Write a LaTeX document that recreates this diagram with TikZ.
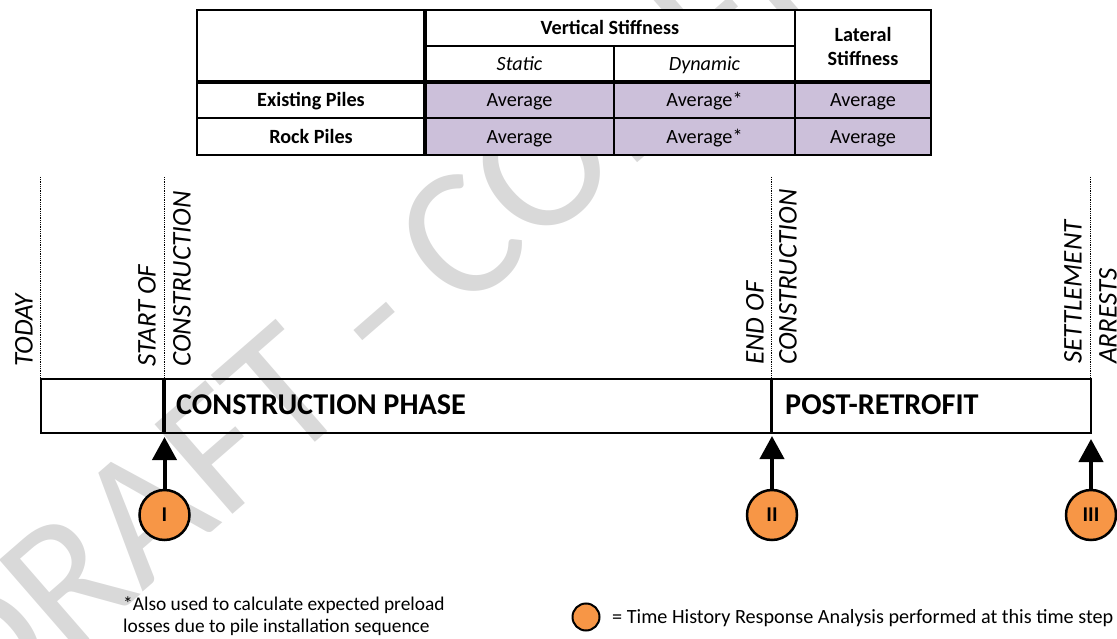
\documentclass[tikz,border=0pt]{standalone}
\usepackage{fontspec}
\setmainfont{Carlito}
\usepackage{xcolor}
\usepackage{tikz}
\usetikzlibrary{arrows.meta}

\definecolor{lilac}{RGB}{204,192,218}
\definecolor{tangerine}{RGB}{247,150,70}
\definecolor{wmgray}{RGB}{217,217,217}

\begin{document}
\begin{tikzpicture}[x=1pt,y=-1pt,
  thinrule/.style={line width=1.4pt},
  thickrule/.style={line width=4pt},
  tabtext/.style={inner sep=0pt, text height=13pt, text depth=0pt,
    font=\fontsize{20.2}{24}\selectfont},
  tabhead/.style={tabtext, font=\fontsize{20.2}{24}\selectfont\bfseries},
  tabsub/.style={tabtext, font=\fontsize{20.2}{24}\selectfont\itshape},
  guide/.style={densely dotted, line width=0.8pt},
  milestone/.style={rotate=90, anchor=west, align=left, inner sep=0pt,
    font=\fontsize{27}{35}\selectfont\itshape},
  phase/.style={anchor=west, inner sep=0pt, text height=19.5pt, text depth=0pt,
    font=\fontsize{30.2}{31}\selectfont\bfseries},
  stepdot/.style={circle, draw, line width=2.5pt, fill=tangerine, minimum size=50pt,
    inner sep=0pt, font=\fontsize{21}{21}\selectfont\bfseries},
  uparrow/.style={line width=4pt, -{Triangle[width=24pt,length=23pt]}},
  note/.style={inner sep=0pt, align=left, font=\fontsize{19.4}{22}\selectfont}
]
\useasboundingbox (0,0) rectangle (1117,639);

% watermark behind everything
\node[rotate=41, anchor=base west, inner sep=0pt, text=wmgray,
  font=\fontsize{185}{185}\selectfont] (draftmark) at (-19,733) {DRAFT - CONFIDENTIAL};

% stiffness table
\fill[white] (197,10) rectangle (931,155);
\fill[lilac] (425,82) rectangle (931,155);
\draw[thinrule] (197,10) rectangle (931,155);
\draw[thinrule] (425,46) -- (795,46);
\draw[thinrule] (614,46) -- (614,155);
\draw[thinrule] (795,10) -- (795,155);
\draw[thinrule] (197,118) -- (931,118);
\draw[thickrule] (425,10) -- (425,155);
\draw[thickrule] (197,82) -- (931,82);

\node[tabhead] (vert) at (610,28) {Vertical Stiffness};
\node[inner sep=0pt, align=center, font=\fontsize{20.2}{24}\selectfont\bfseries] (lat) at (863,46) {Lateral\\Stiffness};
\node[tabsub] (stat) at (519.5,64) {Static};
\node[tabsub] (dyn) at (704.5,64) {Dynamic};

\node[tabhead] (exist) at (311,100) {Existing Piles};
\node[tabhead] (rock) at (311,137) {Rock Piles};

\node[tabtext] (e1) at (519.5,100) {Average};
\node[tabtext] (e2) at (704.5,100) {Average*};
\node[tabtext] (e3) at (863,100) {Average};
\node[tabtext] (r1) at (519.5,137) {Average};
\node[tabtext] (r2) at (704.5,137) {Average*};
\node[tabtext] (r3) at (863,137) {Average};

% time line
\node[draw, line width=1.5pt, minimum width=1050pt, minimum height=54pt, inner sep=0pt,
  anchor=north west] (bar) at (40,378) {};
\draw[thickrule, line width=3.5pt] (164,378) -- (164,432);
\draw[thickrule, line width=3.5pt] (771.5,378) -- (771.5,432);

\draw[guide] (40,177) -- (40,378);
\draw[guide] (164,177) -- (164,378);
\draw[guide] (771.5,177) -- (771.5,378);
\draw[guide] (1090,177) -- (1090,378);

\node[milestone] (today) at (24,367) {TODAY};
\node[milestone] (start) at (164.5,367) {START OF\\CONSTRUCTION};
\node[milestone, font=\fontsize{27}{33}\selectfont\itshape] (finish) at (771.5,365) {END OF\\CONSTRUCTION};
\node[milestone] (settle) at (1090.5,364) {SETTLEMENT\\ARRESTS};

\node[phase] (build) at (176,405) {CONSTRUCTION PHASE};
\node[phase] (post) at (785,405) {POST-RETROFIT};

% analysis steps
\node[stepdot] (s1) at (164.5,515) {I};
\node[stepdot] (s2) at (772,515) {II};
\node[stepdot] (s3) at (1091,515) {III};

\coordinate (tip1) at (164.5,437);
\coordinate (tip2) at (772,436);
\coordinate (tip3) at (1091,439);

\draw[uparrow] (s1) -- (tip1);
\draw[uparrow] (s2) -- (tip2);
\draw[uparrow] (s3) -- (tip3);

% notes
\node[note, anchor=north west] (foot) at (123,597) {*Also used to calculate expected preload\\losses due to pile installation sequence};
\node[circle, draw, line width=2pt, fill=tangerine, minimum size=27pt, inner sep=0pt] (keydot) at (586,617) {};
\node[inner sep=0pt, anchor=base west, font=\fontsize{20.2}{22}\selectfont] (key) at (612,623) {= Time History Response Analysis performed at this time step};
\end{tikzpicture}
\end{document}
